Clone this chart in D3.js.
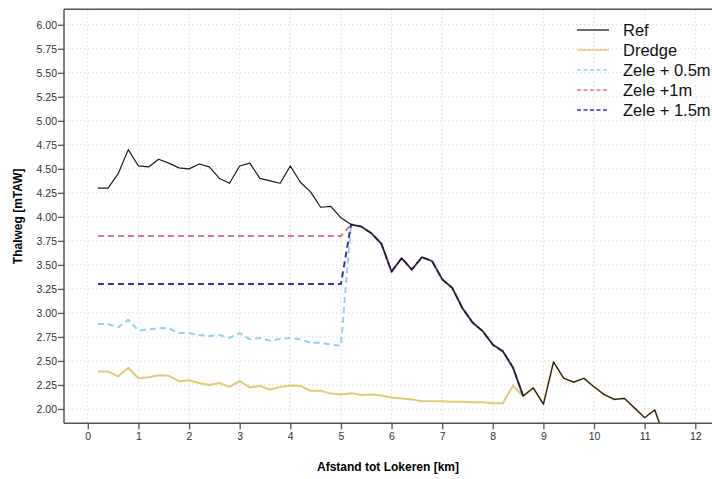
<!DOCTYPE html>
<html>
<head>
<meta charset="utf-8">
<script src="https://cdn.jsdelivr.net/npm/d3@7"></script>
<style>
	body { margin: 0; background: #fff; }
	text { font-family: "Liberation Sans", Arial, sans-serif; }
</style>
</head>
<body>
<div id="chart"></div>
<script>
// values
var refX = [0.2, 0.4, 0.6, 0.8, 1.0, 1.2, 1.4, 1.6, 1.8, 2.0, 2.2, 2.4, 2.6, 2.8, 3.0, 3.2, 3.4, 3.6, 3.8, 4.0,
	4.2, 4.4, 4.6, 4.8, 5.0, 5.2, 5.4, 5.6, 5.8, 6.0, 6.2, 6.4, 6.6, 6.8, 7.0, 7.2, 7.4, 7.6, 7.8, 8.0,
	8.2, 8.4, 8.6, 8.8, 9.0, 9.2, 9.4, 9.6, 9.8, 10.0, 10.2, 10.4, 10.6, 10.8, 11.0, 11.2, 11.4];
var refY = [4.30, 4.30, 4.45, 4.70, 4.53, 4.52, 4.60, 4.56, 4.51, 4.50, 4.55, 4.52, 4.40, 4.35, 4.53, 4.56, 4.40, 4.375, 4.35, 4.53,
	4.36, 4.26, 4.10, 4.11, 3.99, 3.92, 3.90, 3.83, 3.72, 3.43, 3.57, 3.45, 3.58, 3.54, 3.35, 3.26, 3.05, 2.90, 2.81, 2.67,
	2.60, 2.43, 2.135, 2.22, 2.05, 2.49, 2.32, 2.28, 2.32, 2.23, 2.15, 2.10, 2.11, 2.01, 1.91, 1.99, 1.69];

var dredgeX = refX;
var dredgeY = [2.39, 2.39, 2.34, 2.43, 2.32, 2.33, 2.35, 2.345, 2.29, 2.30, 2.27, 2.25, 2.27, 2.23, 2.29, 2.225, 2.24, 2.20, 2.23, 2.245,
	2.24, 2.19, 2.19, 2.16, 2.15, 2.165, 2.145, 2.15, 2.14, 2.12, 2.11, 2.10, 2.08, 2.08, 2.08, 2.075, 2.075, 2.07, 2.07, 2.06,
	2.06, 2.245, 2.135, 2.22, 2.05, 2.49, 2.32, 2.28, 2.32, 2.23, 2.15, 2.10, 2.11, 2.01, 1.91, 1.99, 1.69];

var zeleX = [0.2, 0.4, 0.6, 0.8, 1.0, 1.2, 1.4, 1.6, 1.8, 2.0, 2.2, 2.4, 2.6, 2.8, 3.0, 3.2, 3.4, 3.6, 3.8, 4.0,
	4.2, 4.4, 4.6, 4.8, 5.0, 5.2, 5.4, 5.6, 5.8, 6.0, 6.2, 6.4, 6.6, 6.8, 7.0, 7.2, 7.4, 7.6, 7.8, 8.0,
	8.2, 8.4, 8.6];
var zele05Y = [2.885, 2.885, 2.85, 2.93, 2.815, 2.83, 2.84, 2.84, 2.79, 2.79, 2.77, 2.76, 2.77, 2.74, 2.79, 2.725, 2.74, 2.71, 2.73, 2.74,
	2.725, 2.69, 2.69, 2.67, 2.66, 3.92, 3.90, 3.83, 3.72, 3.43, 3.57, 3.45, 3.58, 3.54, 3.35, 3.26, 3.05, 2.90, 2.81, 2.67,
	2.60, 2.43, 2.135];
var zele1Y = [3.80, 3.80, 3.80, 3.80, 3.80, 3.80, 3.80, 3.80, 3.80, 3.80, 3.80, 3.80, 3.80, 3.80, 3.80, 3.80, 3.80, 3.80, 3.80, 3.80,
	3.80, 3.80, 3.80, 3.80, 3.80, 3.92, 3.90, 3.83, 3.72, 3.43, 3.57, 3.45, 3.58, 3.54, 3.35, 3.26, 3.05, 2.90, 2.81, 2.67,
	2.60, 2.43, 2.135];
var zele15Y = [3.30, 3.30, 3.30, 3.30, 3.30, 3.30, 3.30, 3.30, 3.30, 3.30, 3.30, 3.30, 3.30, 3.30, 3.30, 3.30, 3.30, 3.30, 3.30, 3.30,
	3.30, 3.30, 3.30, 3.30, 3.30, 3.92, 3.90, 3.83, 3.72, 3.43, 3.57, 3.45, 3.58, 3.54, 3.35, 3.26, 3.05, 2.90, 2.81, 2.67,
	2.60, 2.43, 2.135];

var xTicks = [0, 1, 2, 3, 4, 5, 6, 7, 8, 9, 10, 11, 12];
var yTicks = [2.00, 2.25, 2.50, 2.75, 3.00, 3.25, 3.50, 3.75, 4.00, 4.25, 4.50, 4.75, 5.00, 5.25, 5.50, 5.75, 6.00];

var seriesNames = ["Ref", "Dredge", "Zele + 0.5m", "Zele +1m", "Zele + 1.5m"];
var seriesColors = ["#1a1a1a", "#e3cb76", "#8fd0f5", "#e07585", "#3b31a6"];
var seriesDash = [null, null, "6,4", "6,4", "6,4"];
var seriesWidth = [1.2, 2, 2, 2, 2];

var width = 712, height = 479;
var mLeft = 64, mTop = 9.3, mBottom = 423.3, mRight = 712;

var x = d3.scaleLinear().domain([-0.47, 12.33]).range([mLeft, mRight]);
var y = d3.scaleLinear().domain([1.851, 6.161]).range([mBottom, mTop]);

var svg = d3.select("#chart")
	.append("svg")
	.attr("width", width)
	.attr("height", height);

svg.append("clipPath").attr("id", "clip")
	.append("rect")
	.attr("x", mLeft).attr("y", mTop)
	.attr("width", mRight - mLeft).attr("height", mBottom - mTop);

// dotted grid
var grid = svg.append("g");
grid.selectAll(".gx")
	.data(xTicks)
	.enter()
	.append("line")
	.attr("x1", function(d){ return x(d); })
	.attr("x2", function(d){ return x(d); })
	.attr("y1", mTop).attr("y2", mBottom)
	.style("stroke", "#d9d9d9")
	.style("stroke-dasharray", "1.5,2.5");
grid.selectAll(".gy")
	.data(yTicks)
	.enter()
	.append("line")
	.attr("y1", function(d){ return y(d); })
	.attr("y2", function(d){ return y(d); })
	.attr("x1", mLeft).attr("x2", mRight)
	.style("stroke", "#d9d9d9")
	.style("stroke-dasharray", "1.5,2.5");

// lines (ref last so it sits on top where the series overlap)
var series = [
	{ xs: dredgeX, ys: dredgeY, k: 1 },
	{ xs: zeleX, ys: zele05Y, k: 2 },
	{ xs: zeleX, ys: zele1Y, k: 3 },
	{ xs: zeleX, ys: zele15Y, k: 4 },
	{ xs: refX, ys: refY, k: 0 }
];

var line = d3.line()
	.x(function(d){ return x(d[0]); })
	.y(function(d){ return y(d[1]); });

var plot = svg.append("g").attr("clip-path", "url(#clip)");
series.forEach(function(s){
	var pts = s.xs.map(function(v, i){ return [v, s.ys[i]]; });
	plot.append("path")
		.datum(pts)
		.attr("d", line)
		.style("fill", "none")
		.style("stroke", seriesColors[s.k])
		.style("stroke-width", seriesWidth[s.k])
		.style("stroke-dasharray", seriesDash[s.k])
		.style("stroke-linejoin", "round");
});

// frame
svg.append("line").attr("x1", mLeft).attr("x2", mRight + 2).attr("y1", mTop).attr("y2", mTop)
	.style("stroke", "#555").style("stroke-width", 1.5);

var xAxis = svg.append("g")
	.attr("transform", "translate(0," + mBottom + ")")
	.call(d3.axisBottom(x).tickValues(xTicks).tickFormat(d3.format("d")).tickSize(6).tickPadding(3));
var yAxis = svg.append("g")
	.attr("transform", "translate(" + mLeft + ",0)")
	.call(d3.axisLeft(y).tickValues(yTicks).tickFormat(d3.format(".2f")).tickSize(6).tickPadding(1));

[xAxis, yAxis].forEach(function(a){
	a.select(".domain").style("stroke", "#555").style("stroke-width", 1.5);
	a.selectAll(".tick line").style("stroke", "#555").style("stroke-width", 1.3);
	a.selectAll(".tick text")
		.style("font-family", "'Liberation Sans', Arial, sans-serif")
		.style("font-size", "10.5px")
		.style("fill", "#333");
});
xAxis.select(".domain").attr("d", "M" + mLeft + ",0H" + (mRight + 2));
yAxis.select(".domain").attr("d", "M0," + mTop + "V" + mBottom);

// axis titles
svg.append("text")
	.attr("x", (mLeft + mRight) / 2)
	.attr("y", 471)
	.attr("text-anchor", "middle")
	.style("font-size", "12px")
	.style("font-weight", "bold")
	.text("Afstand tot Lokeren [km]");

svg.append("text")
	.attr("transform", "translate(22," + ((mTop + mBottom) / 2) + ") rotate(-90)")
	.attr("text-anchor", "middle")
	.style("font-size", "12px")
	.style("font-weight", "bold")
	.text("Thalweg [mTAW]");

// legend
var legend = svg.append("g");
seriesNames.forEach(function(name, i){
	var ly = 30 + i * 20;
	legend.append("line")
		.attr("x1", 577).attr("x2", 609)
		.attr("y1", ly).attr("y2", ly)
		.style("stroke", seriesColors[i])
		.style("stroke-width", i == 0 ? 1.3 : 1.6)
		.style("stroke-dasharray", i >= 2 ? "4,2.5" : null);
	legend.append("text")
		.attr("x", 623)
		.attr("y", ly + 5.5)
		.style("font-size", "16.5px")
		.style("fill", "#111")
		.text(name);
});
</script>
</body>
</html>
